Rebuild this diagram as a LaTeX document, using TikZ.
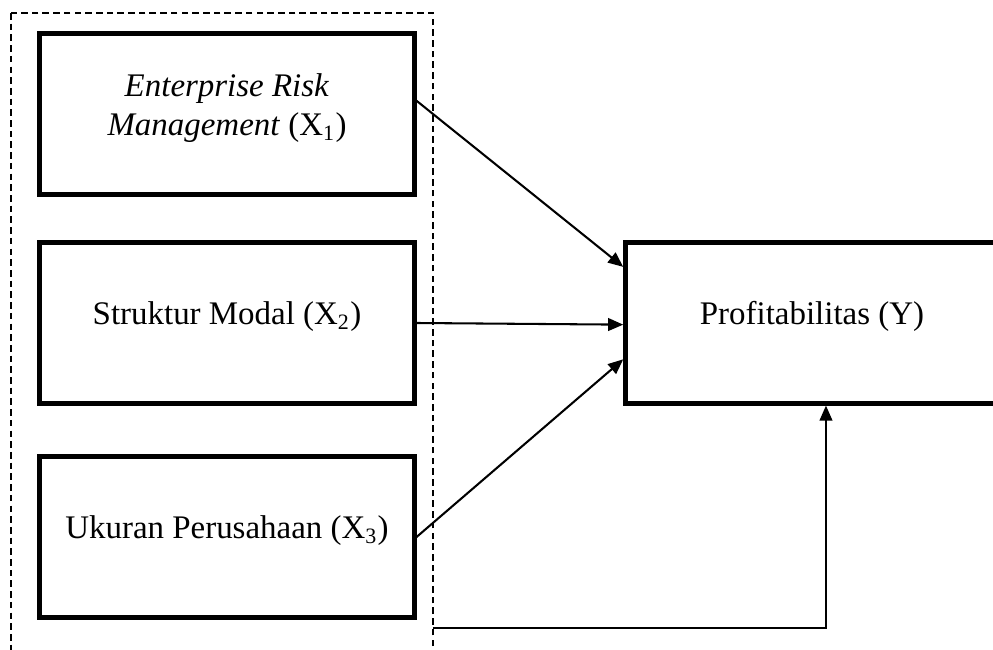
\documentclass[tikz,border=0pt]{standalone}
\usepackage{fontspec}
\setmainfont{Liberation Serif}
\usetikzlibrary{arrows.meta,calc}
\tikzset{
  kr/box/.style={
    draw=black,
    line width=1.8pt,
    fill=white,
    align=center,
    minimum width=4.79cm,
    minimum height=2.05cm,
    text depth=7pt,
    font=\fontsize{12}{14.2}\selectfont
  },
  kr/frame/.style={draw=black, line width=0.55pt, dash pattern=on 2.4pt off 1.5pt},
  kr/arrow/.style={-{Triangle[length=5.5pt,width=4.6pt]}, line width=0.75pt, draw=black}
}

\begin{document}
\begin{tikzpicture}[x=0.0128cm,y=-0.0128cm]
  \useasboundingbox (0,0) rectangle (993,650);
  % dashed frame round the independent variables
  \coordinate (frameNW) at (11,13);
  \coordinate (frameSE) at (433,670);
  \draw[kr/frame] (frameNW) rectangle (frameSE);

  \node[kr/box] (erm) at (227,114) {\textit{Enterprise Risk}\\\textit{Management} (X\textsubscript{1})};
  \node[kr/box] (modal) at (227,323) {Struktur Modal (X\textsubscript{2})};
  \node[kr/box] (ukuran) at (227,537) {Ukuran Perusahaan (X\textsubscript{3})};
  \node[kr/box,minimum width=4.77cm] (profit) at (812,323) {Profitabilitas (Y)};

  \draw[kr/arrow] ($(erm.north east)!0.42!(erm.south east)$) -- ($(profit.north west)!0.16!(profit.south west)$);
  \draw[kr/arrow] (modal.east) -- ($(profit.north west)!0.51!(profit.south west)$);
  \draw[kr/arrow] (ukuran.east) -- ($(profit.north west)!0.72!(profit.south west)$);

  \coordinate (loopstart) at (433,628);
  \draw[kr/arrow] (loopstart) -| ($(profit.south west)!0.537!(profit.south east)$);
\end{tikzpicture}
\end{document}
